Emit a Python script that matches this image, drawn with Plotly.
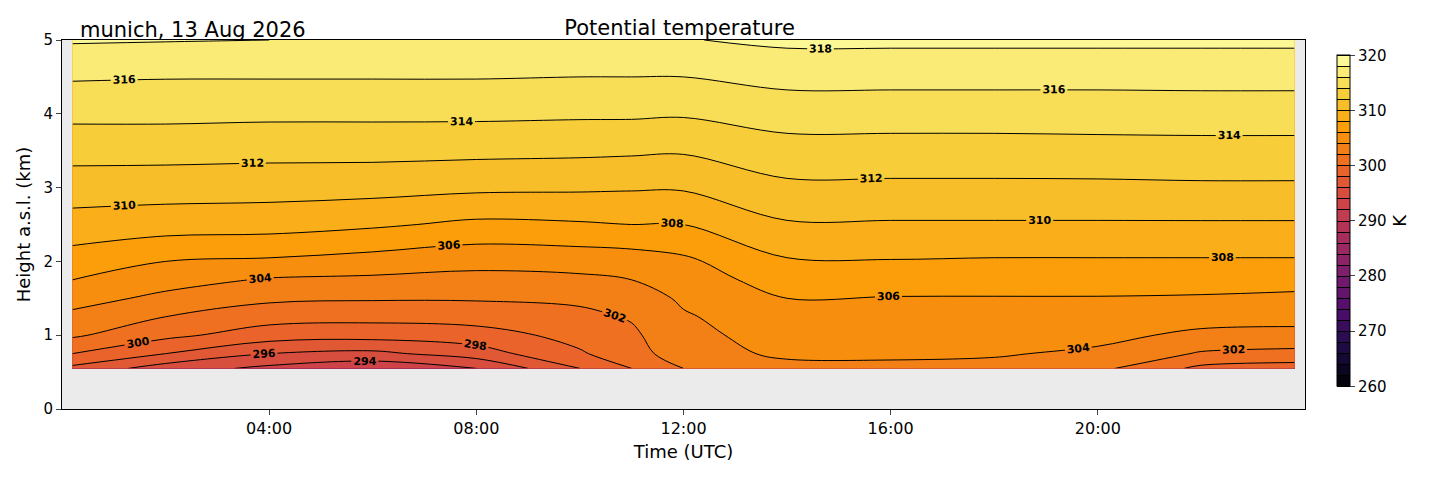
import plotly.graph_objects as go

# hours UTC
times = [0.2, 2, 4, 6, 8, 10, 11, 12, 14, 16, 18, 20, 22, 23.8]
# height a.s.l. (km)
heights = [0.55, 0.75, 1.0, 1.25, 1.5, 1.75, 2.0, 2.5, 3.0, 3.5, 4.0, 4.5, 5.0]

# potential temperature (K), one row per height, one value per time
theta = [
    [297.5, 295.0, 293.5, 292.5, 294.0, 298.0, 300.0, 302.0, 303.5, 303.6, 303.4, 302.5, 299.5, 299.0],
    [300.0, 298.0, 296.0, 295.5, 297.0, 299.8, 301.0, 303.3, 304.3, 304.3, 304.2, 303.6, 301.8, 301.5],
    [302.3, 300.5, 299.0, 298.8, 299.2, 300.6, 301.6, 303.6, 304.6, 304.8, 304.8, 304.6, 303.5, 303.3],
    [303.5, 302.0, 300.8, 300.6, 300.8, 301.5, 302.2, 303.8, 305.2, 305.3, 305.2, 305.2, 304.9, 304.8],
    [304.8, 303.5, 302.4, 302.2, 302.2, 302.4, 303.0, 304.3, 306.0, 305.9, 305.9, 305.9, 305.8, 305.6],
    [306.0, 304.8, 303.8, 303.6, 303.4, 303.6, 304.0, 305.0, 306.9, 306.9, 306.8, 306.8, 306.8, 306.7],
    [307.1, 306.0, 305.7, 305.2, 304.6, 304.8, 305.0, 305.6, 307.8, 307.9, 307.8, 307.8, 307.8, 307.8],
    [309.2, 308.9, 308.8, 308.3, 307.6, 307.8, 308.0, 308.0, 309.8, 309.8, 309.8, 309.8, 309.8, 309.8],
    [311.0, 310.9, 310.8, 310.7, 310.4, 310.3, 310.2, 310.2, 311.6, 311.6, 311.6, 311.6, 311.7, 311.7],
    [312.7, 312.7, 312.6, 312.6, 312.5, 312.4, 312.3, 312.2, 313.2, 313.2, 313.2, 313.3, 313.3, 313.3],
    [314.5, 314.5, 314.4, 314.4, 314.4, 314.3, 314.3, 314.2, 314.9, 314.9, 314.9, 314.9, 315.0, 315.0],
    [316.2, 316.1, 316.1, 316.1, 316.1, 316.0, 316.0, 316.0, 316.6, 316.6, 316.6, 316.6, 316.6, 316.6],
    [318.2, 318.1, 318.0, 318.0, 318.0, 317.9, 317.9, 317.9, 318.4, 318.4, 318.4, 318.4, 318.4, 318.4],
]

tick_vals = [4, 8, 12, 16, 20]
tick_text = ["04:00", "08:00", "12:00", "16:00", "20:00"]

fig = go.Figure(go.Contour(
    x=times, y=heights, z=theta,
    colorscale="Inferno", zmin=260, zmax=320,
    contours=dict(start=260, end=320, size=2, showlabels=True,
                  labelfont=dict(size=11, color="black", weight="bold")),
    line=dict(color="black", width=1, smoothing=1),
    colorbar=dict(tickvals=list(range(260, 321, 10)), thickness=13, len=0.95,
                  x=1.018, xanchor="left", y=0.51, outlinewidth=1, outlinecolor="black",
                  ticks="outside", tickfont=dict(size=15),
                  title=dict(text="K", side="right", font=dict(size=18))),
))

fig.update_layout(
    width=1429, height=478,
    margin=dict(l=54, r=132, t=32, b=77),
    plot_bgcolor="#ebebeb", paper_bgcolor="white",
    font=dict(family="DejaVu Sans", color="black"),
    title=dict(text="Potential temperature", x=0.47, y=0.975, font=dict(size=21)),
    annotations=[dict(text="munich, 13 Aug 2026", xref="paper", yref="paper",
                      x=0.013, y=0.99, xanchor="left", yanchor="bottom",
                      showarrow=False, font=dict(size=21))],
)
fig.update_xaxes(range=[0, 24], tickvals=tick_vals, ticktext=tick_text, showgrid=False,
                 zeroline=False, ticks="outside", showline=True, linecolor="black",
                 mirror=True, tickfont=dict(size=16),
                 title=dict(text="Time (UTC)", font=dict(size=18), standoff=8))
fig.update_yaxes(range=[0, 5], dtick=1, showgrid=False, zeroline=False, ticks="outside",
                 showline=True, linecolor="black", mirror=True, tickfont=dict(size=15),
                 title=dict(text="Height a.s.l. (km)", font=dict(size=18), standoff=8))

fig.write_html("out.html")
